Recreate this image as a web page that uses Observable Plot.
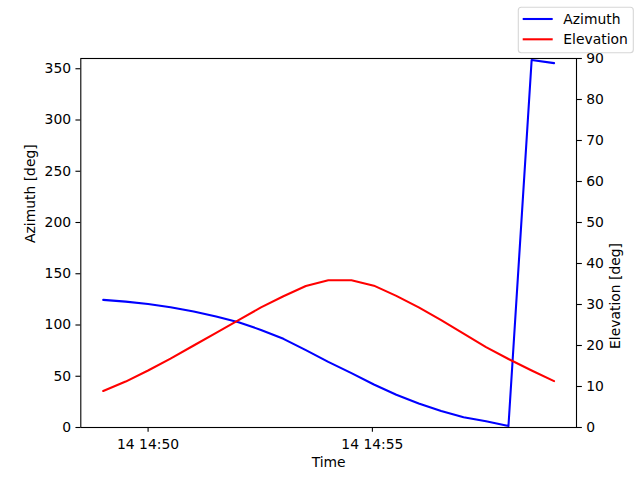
<!DOCTYPE html>
<html>
<head>
<meta charset="utf-8">
<script src="https://cdn.jsdelivr.net/npm/d3@7"></script>
<script src="https://cdn.jsdelivr.net/npm/@observablehq/plot@0.6"></script>
<style>
  html, body { margin: 0; padding: 0; background: white; }
  #wrap { position: relative; width: 640px; height: 480px; font-family: "DejaVu Sans", sans-serif; }
  #legend { position: absolute; left: 0; top: 0; }
</style>
</head>
<body>
<div id="wrap"></div>
<script>
// ---- data ----
const day = "2024-05-14";
const times = [
  "14:49:00", "14:49:30", "14:50:00", "14:50:30", "14:51:01", "14:51:31", "14:52:01",
  "14:52:31", "14:53:01", "14:53:31", "14:54:01", "14:54:32", "14:55:02", "14:55:32",
  "14:56:02", "14:56:32", "14:57:02", "14:57:32", "14:58:02", "14:58:33", "14:59:03"
];
const azimuth = [
  124.5, 122.8, 120.5, 117.3, 113.1, 108.2, 102.7,
  95.2, 86.5, 75.5, 64.0, 53.0, 42.0, 32.0,
  23.5, 16.0, 10.0, 6.0, 1.5, 358.5, 355.5
];
const elevation = [
  8.9, 11.2, 13.9, 16.8, 20.0, 23.1, 26.2,
  29.3, 32.0, 34.5, 35.9, 35.9, 34.6, 32.1,
  29.3, 26.2, 22.9, 19.6, 16.7, 13.9, 11.3
];
const seriesNames = ["Azimuth", "Elevation"];
const seriesColors = ["blue", "red"];
const xTickTimes = ["14:50:00", "14:55:00"];
const xDomainTimes = ["14:48:30", "14:59:33"];
const azTicks = [0, 50, 100, 150, 200, 250, 300, 350];
const elTicks = [0, 10, 20, 30, 40, 50, 60, 70, 80, 90];
const azDomain = [0, 360];
const elDomain = [0, 90];

// ---- build ----
const parse = d3.utcParse("%Y-%m-%d %H:%M:%S");
const toDate = t => parse(day + " " + t);
const k = azDomain[1] / elDomain[1]; // elevation -> shared y scale
const rows = times.map((t, i) => ({t: toDate(t), az: azimuth[i], el: elevation[i]}));

const fs = "13.9px";
const tick = 4.86;

const chart = Plot.plot({
  width: 640,
  height: 480,
  marginLeft: 80.3,
  marginRight: 64,
  marginTop: 58,
  marginBottom: 53,
  style: {fontFamily: "DejaVu Sans", fontSize: fs, background: "white", color: "black"},
  x: {type: "utc", domain: xDomainTimes.map(toDate)},
  y: {domain: azDomain},
  marks: [
    Plot.lineY(rows, {x: "t", y: "az", stroke: seriesColors[0], strokeWidth: 2.08}),
    Plot.lineY(rows, {x: "t", y: d => d.el * k, stroke: seriesColors[1], strokeWidth: 2.08}),
    Plot.frame({stroke: "black", strokeWidth: 1.1}),
    Plot.axisX({ticks: xTickTimes.map(toDate), tickFormat: d3.utcFormat("%d %H:%M"),
      tickSize: tick, tickPadding: tick + 2, strokeWidth: 1.1, label: null}),
    Plot.axisY({anchor: "left", ticks: azTicks, tickSize: tick, tickPadding: tick,
      strokeWidth: 1.1, label: null}),
    Plot.axisY({anchor: "right", ticks: elTicks.map(v => v * k), tickFormat: d => String(d / k),
      tickSize: tick, tickPadding: tick, strokeWidth: 1.1, label: null}),
    Plot.text(["Azimuth [deg]"], {frameAnchor: "left", rotate: -90, dx: -50.3, text: d => d}),
    Plot.text(["Elevation [deg]"], {frameAnchor: "right", rotate: -90, dx: 39, text: d => d}),
    Plot.text(["Time"], {frameAnchor: "bottom", dy: 39, text: d => d})
  ]
});

const wrap = document.getElementById("wrap");
wrap.appendChild(chart);

// legend (top right, matplotlib style)
const leg = d3.select(wrap).append("svg")
  .attr("id", "legend")
  .attr("width", 640).attr("height", 60)
  .style("font-family", "DejaVu Sans").style("font-size", fs);
leg.append("rect")
  .attr("x", 518.3).attr("y", 7.3).attr("width", 115).attr("height", 45.4)
  .attr("rx", 3).attr("fill", "white").attr("fill-opacity", 0.8)
  .attr("stroke", "#cccccc").attr("stroke-opacity", 0.8).attr("stroke-width", 1.1);
seriesNames.forEach((name, i) => {
  const y = 19 + i * 20.3;
  leg.append("line").attr("x1", 522.7).attr("x2", 552.7).attr("y1", y).attr("y2", y)
    .attr("stroke", seriesColors[i]).attr("stroke-width", 2.08);
  leg.append("text").attr("x", 563.3).attr("y", y).attr("dy", "0.35em")
    .attr("fill", "black").text(name);
});
</script>
</body>
</html>
